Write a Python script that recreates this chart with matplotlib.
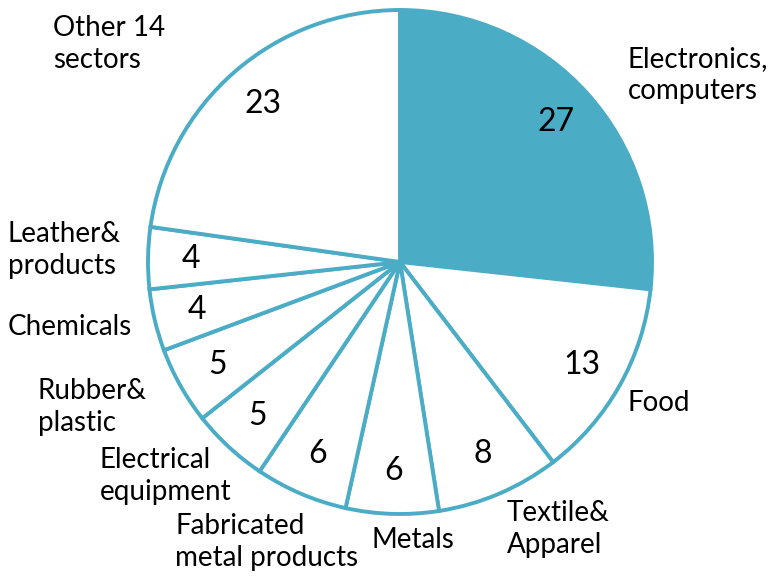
import matplotlib.pyplot as plt
import numpy as np

sectors = ['Electronics,\ncomputers', 'Food', 'Textile&\nApparel', 'Metals',
           'Fabricated\nmetal products', 'Electrical\nequipment', 'Rubber&\nplastic',
           'Chemicals', 'Leather&\nproducts', 'Other 14\nsectors']
shares = [27, 13, 8, 6, 6, 5, 5, 4, 4, 23]

# label anchor points (pixel coords, origin bottom-left)
label_xy = [(628, 506), (628, 178), (507, 52), (372, 41),
            (175, 39), (100, 105), (38, 174), (8, 254), (8, 331), (53, 537)]

blue = '#4BACC6'
plt.rcParams['font.family'] = ['Lato', 'DejaVu Sans']

fig = plt.figure(figsize=(7.77, 5.81), dpi=100)
ax = fig.add_axes([0, 0, 1, 1])

colors = [blue] + ['white'] * (len(shares) - 1)
wedges, texts = ax.pie(shares, colors=colors, startangle=90, counterclock=False,
                       center=(400, 319), radius=252, frame=True,
                       wedgeprops=dict(edgecolor=blue, linewidth=2.8))
ax.set_xlim(0, 777)
ax.set_ylim(0, 581)
ax.set_aspect('equal')
ax.axis('off')

for w, v in zip(wedges, shares):
    mid = np.deg2rad((w.theta1 + w.theta2) / 2)
    ax.text(400 + 0.83 * 252 * np.cos(mid), 319 + 0.83 * 252 * np.sin(mid), str(v),
            ha='center', va='center', fontsize=23, color='black')

for name, (x, y) in zip(sectors, label_xy):
    ax.text(x, y, name, ha='left', va='center', fontsize=20, color='black',
            linespacing=1.25)

fig.savefig('out.png', dpi=100)
